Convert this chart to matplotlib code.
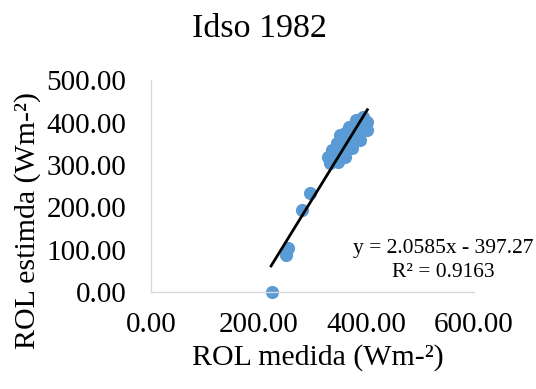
import numpy as np
import matplotlib
matplotlib.use('Agg')
import matplotlib.pyplot as plt

plt.rcParams['font.family'] = ['Liberation Serif', 'DejaVu Serif']

# ROL medida vs ROL estimada (Idso 1982)
rol_medida = [225, 250, 255, 281, 296,
              328, 337, 346, 352, 367, 380, 393, 402, 402, 389, 374, 361,
              348, 333, 345, 355, 365, 375, 385, 360, 370, 380, 395, 340,
              355, 398, 388]
rol_estimada = [0, 87, 104, 193, 234,
                318, 335, 351, 370, 389, 406, 413, 401, 382, 358, 340, 318,
                307, 304, 330, 345, 360, 375, 395, 375, 365, 385, 395, 320,
                325, 390, 405]
slope = 2.0585
intercept = -397.27
r2 = 0.9163

fig = plt.figure(figsize=(5.36, 3.89), dpi=100)
ax = fig.add_axes([0.282, 0.249, 0.602, 0.545])

ax.scatter(rol_medida, rol_estimada, s=90, color='#5B9BD5', zorder=2,
           linewidths=0, clip_on=False)

xl = np.array([min(rol_medida) - 2, max(rol_medida)])
ax.plot(xl, slope * xl + intercept, color='black', lw=2, zorder=3)

ax.set_xlim(0, 600)
ax.set_ylim(0, 500)
ax.set_xticks([0, 200, 400, 600])
ax.set_yticks([0, 100, 200, 300, 400, 500])
ax.set_xticklabels(['%.2f' % v for v in [0, 200, 400, 600]])
ax.set_yticklabels(['%.2f' % v for v in [0, 100, 200, 300, 400, 500]])
ax.tick_params(axis='x', length=0, labelsize=21, pad=14)
ax.tick_params(axis='y', length=0, labelsize=21, pad=18)

for s in ['top', 'right']:
    ax.spines[s].set_visible(False)
for s in ['left', 'bottom']:
    ax.spines[s].set_color('#D9D9D9')
    ax.spines[s].set_linewidth(1)

ax.set_title('Idso 1982', fontsize=24.5, pad=31, x=0.337)
ax.set_xlabel('ROL medida (Wm-²)', fontsize=21.5)
ax.set_ylabel('ROL estimda (Wm-²)', fontsize=21.5)
ax.xaxis.set_label_coords(0.517, -0.245)
ax.yaxis.set_label_coords(-0.34, 0.34)

ax.text(0.904, 0.149, 'y = %.4fx - %.2f\nR² = %.4f' % (slope, -intercept, r2),
        transform=ax.transAxes, ha='center', va='center', fontsize=15.5,
        linespacing=1.3)

fig.savefig('out.png', dpi=100)
